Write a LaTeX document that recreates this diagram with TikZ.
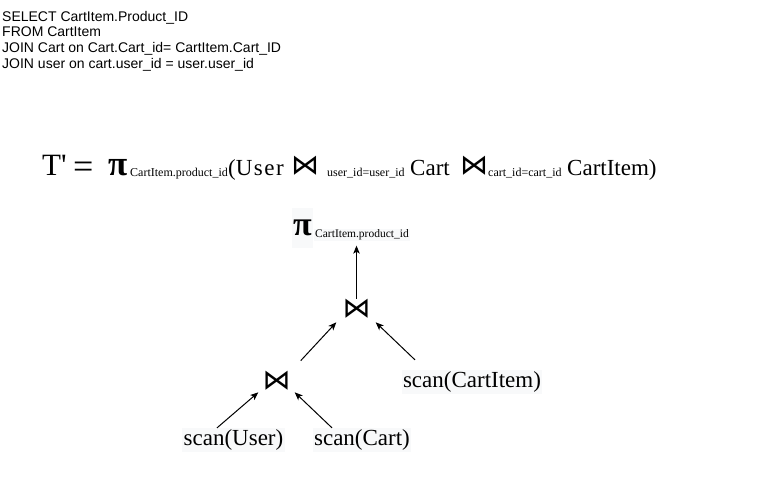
\documentclass[tikz,border=0pt]{standalone}
\usepackage{fontspec}
\setmainfont{Liberation Serif}
\newfontfamily\sqlfont{Liberation Sans}
\newfontfamily\opfont{DejaVu Sans}
\usetikzlibrary{arrows.meta}
\definecolor{labelbg}{HTML}{F8F9FA}
\tikzset{
  rel/.style={anchor=base west, inner sep=0, font=\fontsize{23}{26}\selectfont},
  relsub/.style={anchor=base west, inner sep=0, font=\fontsize{12}{13}\selectfont},
  bowtie/.style={inner sep=0, font=\opfont\fontsize{28}{28}\selectfont},
  scanbox/.style={fill=labelbg, inner sep=1.5pt, font=\fontsize{23}{26}\selectfont},
  arr/.style={-{Stealth[length=8pt,width=6.5pt,inset=2pt]}, line width=1pt}
}
\begin{document}
\begin{tikzpicture}[x=1pt,y=1pt]
    \useasboundingbox (0,0) rectangle (762,484);

    % the query
    \node[anchor=north west, inner sep=0, align=left,
          font=\sqlfont\fontsize{14}{15.6}\selectfont] (sql) at (2,473)
        {SELECT CartItem.Product\_ID\\
         FROM CartItem\\
         JOIN Cart on Cart.Cart\_id= CartItem.Cart\_ID\\
         JOIN user on cart.user\_id = user.user\_id};

    % the expression
    \node[rel, font=\fontsize{31}{31}\selectfont] (tprime) at (42,308) {T\textquotesingle};
    \node[rel, font=\fontsize{36}{36}\selectfont] (eq) at (73,305) {=};
    \node[rel, font=\fontsize{35}{35}\selectfont\bfseries] (pi) at (108,308) {π};
    \node[relsub] (pisub) at (130,307) {CartItem.product\_id};
    \node[rel] (user) at (228,308) {(U\kern1.5pt s\kern1.5pt e\kern1.5pt r};
    \node[rel, font=\opfont\fontsize{28}{28}\selectfont] (bowa) at (291,309) {⋈};
    \node[relsub] (conda) at (327,307) {user\_id=user\_id};
    \node[rel] (cart) at (410,308) {Cart};
    \node[rel, font=\opfont\fontsize{28}{28}\selectfont] (bowb) at (460,309) {⋈};
    \node[relsub] (condb) at (488,307) {cart\_id=cart\_id};
    \node[rel] (cartitem) at (567,308) {CartItem)};

    % the tree
    \node[fill=labelbg, inner sep=0, minimum width=21, minimum height=40,
          font=\fontsize{34}{34}\selectfont\bfseries] (proj) at (302.5,256) {π};
    \node[relsub, fill=labelbg, inner sep=1pt, font=\fontsize{11.5}{13}\selectfont]
        (projsub) at (314,246) {CartItem.product\_id};
    \node[bowtie] (jtop) at (356.5,484-308.5) {⋈};
    \node[bowtie] (jlow) at (276.5,484-380.5) {⋈};
    \node[scanbox] (scanitem) at (472,484-382) {scan(CartItem)};
    \node[scanbox] (scanuser) at (233.5,484-440) {scan(User)};
    \node[scanbox] (scancart) at (362,484-440) {scan(Cart)};

    \draw[arr, shorten >=4pt] (jtop.north) -- (jtop.north |- projsub.south);
    \draw[arr] ([shift={(10pt,10pt)}]jlow.north east) -- ([shift={(-6pt,-4pt)}]jtop.south west);
    \draw[arr] ([xshift=-57pt,yshift=10pt]scanitem.north) -- ([shift={(5pt,-4pt)}]jtop.south east);
    \draw[arr] ([xshift=-16.5pt]scanuser.north) -- ([shift={(-4pt,-2pt)}]jlow.south west);
    \draw[arr] ([xshift=-30pt]scancart.north) -- ([shift={(4pt,-2pt)}]jlow.south east);

\end{tikzpicture}
\end{document}
